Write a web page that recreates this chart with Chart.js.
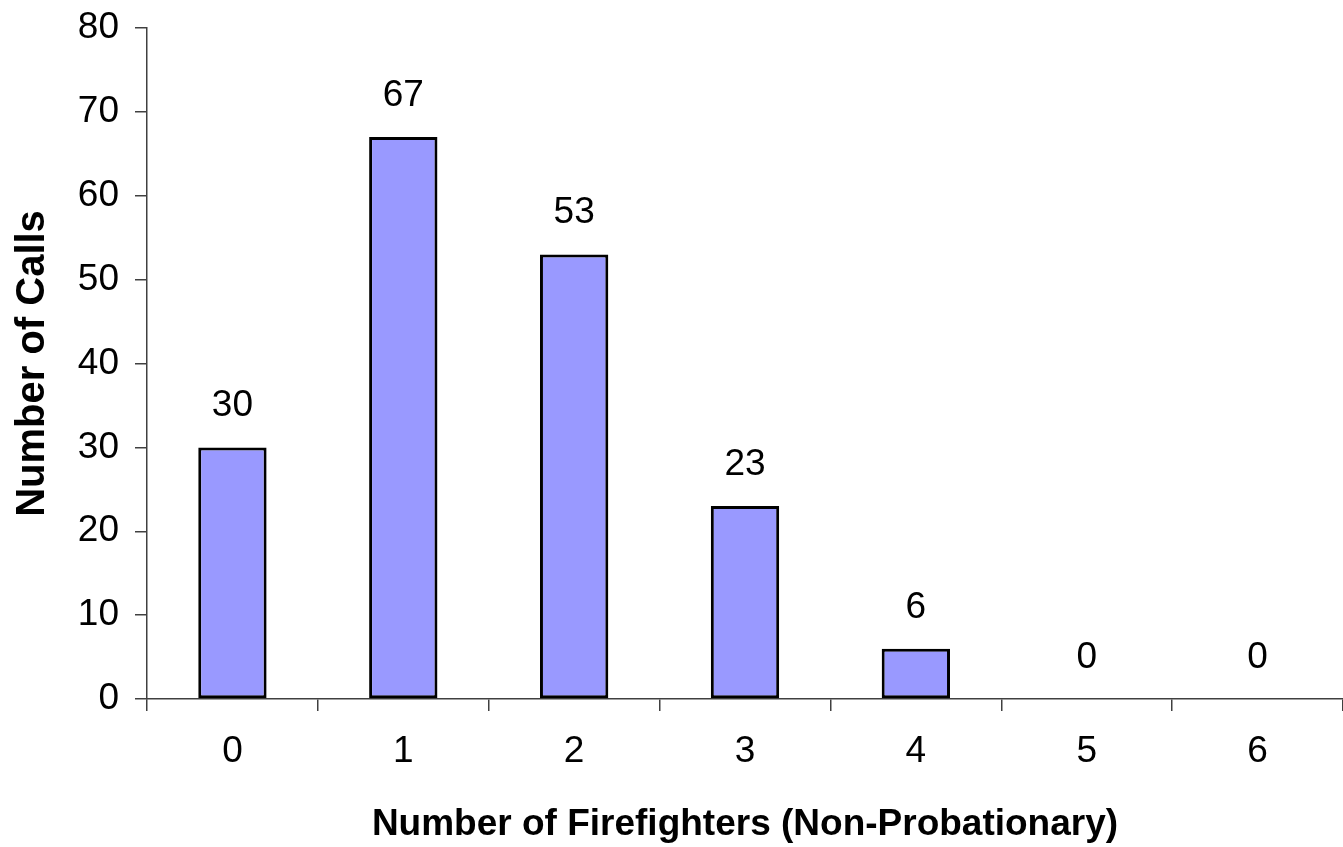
<!DOCTYPE html>
<html>
<head>
<meta charset="utf-8">
<script src="https://cdn.jsdelivr.net/npm/chart.js@4.4.0/dist/chart.umd.min.js"></script>
<style>
  html, body { margin: 0; padding: 0; background: #fff; }
  #wrap { width: 1343px; height: 847px; position: relative; }
</style>
</head>
<body>
<div id="wrap"><canvas id="bars"></canvas></div>
<script>
const firefighters = ["0", "1", "2", "3", "4", "5", "6"];
const calls = [30, 67, 53, 23, 6, 0, 0];
const yTicks = [0, 10, 20, 30, 40, 50, 60, 70, 80];

const FONT = "'Liberation Sans', Arial, sans-serif";

// puts the count above each bar
const valueLabels = {
  id: "valueLabels",
  afterDatasetsDraw(chart) {
    const ctx = chart.ctx;
    const meta = chart.getDatasetMeta(0);
    ctx.save();
    ctx.font = "37px " + FONT;
    ctx.fillStyle = "#000";
    ctx.textAlign = "center";
    ctx.textBaseline = "alphabetic";
    meta.data.forEach((bar, i) => {
      ctx.fillText(String(calls[i]), bar.x, bar.y - 31);
    });
    ctx.restore();
  }
};

new Chart(document.getElementById("bars").getContext("2d"), {
  type: "bar",
  data: {
    labels: firefighters,
    datasets: [{
      data: calls,
      backgroundColor: "#9999FF",
      borderColor: "#000000",
      borderWidth: 3,
      borderSkipped: false,
      barPercentage: 0.4,
      categoryPercentage: 1.0
    }]
  },
  options: {
    responsive: true,
    maintainAspectRatio: false,
    animation: false,
    layout: { padding: { top: 28, right: 0, left: 0, bottom: 0 } },
    plugins: { legend: { display: false }, tooltip: { enabled: false } },
    scales: {
      x: {
        grid: { drawOnChartArea: false, tickLength: 12, color: "#404040", lineWidth: 1.5 },
        border: { color: "#404040", width: 1.5 },
        ticks: { color: "#000", font: { family: FONT, size: 37 }, padding: 19 },
        title: {
          display: true,
          text: "Number of Firefighters (Non-Probationary)",
          color: "#000",
          font: { family: FONT, size: 37, weight: "bold" },
          padding: { top: 2, bottom: 0 }
        },
        afterFit(scale) { scale.height = 148; }
      },
      y: {
        min: 0,
        max: 80,
        afterBuildTicks(scale) { scale.ticks = yTicks.map(v => ({ value: v })); },
        grid: { drawOnChartArea: false, tickLength: 12, color: "#404040", lineWidth: 1.5 },
        border: { color: "#404040", width: 1.5 },
        ticks: { color: "#000", font: { family: FONT, size: 37 }, padding: 16 },
        title: {
          display: true,
          text: "Number of Calls",
          color: "#000",
          font: { family: FONT, size: 40, weight: "bold" },
          padding: { top: 9, bottom: 0 }
        },
        afterFit(scale) {
          scale.width = 147;
          scale.paddingTop = 0;
          scale.paddingBottom = 0;
        }
      }
    }
  },
  plugins: [valueLabels]
});
</script>
</body>
</html>
